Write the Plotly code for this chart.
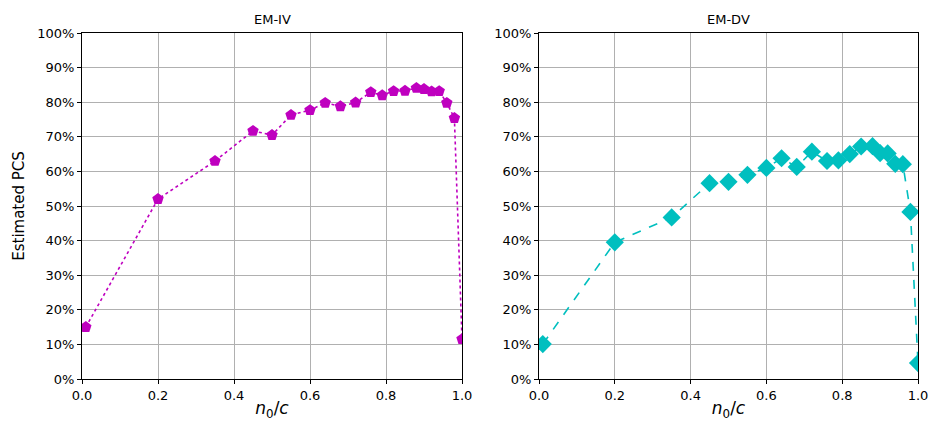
import plotly.graph_objects as go

# Data
x_iv = [0.01, 0.2, 0.35, 0.45, 0.5, 0.55, 0.6, 0.64, 0.68, 0.72, 0.76, 0.79, 0.82, 0.85, 0.88, 0.9, 0.92, 0.94, 0.96, 0.98, 1.0]
pcs_iv = [15.0, 52.0, 63.0, 71.7, 70.5, 76.3, 77.7, 79.8, 78.8, 79.9, 82.9, 82.0, 83.2, 83.3, 84.1, 83.8, 83.1, 83.2, 79.8, 75.4, 11.5]
x_dv = [0.01, 0.2, 0.35, 0.45, 0.5, 0.55, 0.6, 0.64, 0.68, 0.72, 0.76, 0.79, 0.82, 0.85, 0.88, 0.9, 0.92, 0.94, 0.96, 0.98, 1.0]
pcs_dv = [10.1, 39.5, 46.7, 56.6, 57.0, 59.0, 61.0, 63.8, 61.3, 65.7, 63.0, 63.2, 65.0, 67.2, 67.3, 65.3, 65.2, 62.2, 62.1, 48.3, 4.6]
titles = ["EM-IV", "EM-DV"]
y_ticks = list(range(0, 101, 10))
x_ticks = [0.0, 0.2, 0.4, 0.6, 0.8, 1.0]

W, H = 930, 421


def px_x(p):
    return p / W


def px_y(p):
    return (H - p) / H


fig = go.Figure()
fig.add_trace(go.Scatter(x=x_iv, y=pcs_iv, mode="lines+markers",
                         line=dict(color="#bf00bf", width=1.6, dash="dot"),
                         marker=dict(symbol="pentagon", size=12, color="#bf00bf"),
                         xaxis="x", yaxis="y", showlegend=False))
fig.add_trace(go.Scatter(x=x_dv, y=pcs_dv, mode="lines+markers",
                         line=dict(color="#00bfbf", width=1.6, dash="dash"),
                         marker=dict(symbol="diamond", size=14, color="#00bfbf"),
                         xaxis="x2", yaxis="y2", showlegend=False))

font_family = "DejaVu Sans"
tickfont = dict(family=font_family, size=13, color="black")
common_x = dict(range=[0, 1], tickvals=x_ticks, ticktext=[f"{v:.1f}" for v in x_ticks],
                showgrid=True, gridcolor="#b0b0b0", gridwidth=1,
                showline=True, linecolor="black", linewidth=1, mirror=True,
                ticks="outside", ticklen=4, tickcolor="black", tickfont=tickfont,
                zeroline=False, automargin=False,
                title=dict(text="<i>n</i><sub>0</sub>/<i>c</i>",
                           font=dict(family=font_family, size=17, color="black"), standoff=4))
common_y = dict(range=[0, 100], tickvals=y_ticks, ticktext=[f"{v}%" for v in y_ticks],
                showgrid=True, gridcolor="#b0b0b0", gridwidth=1,
                showline=True, linecolor="black", linewidth=1, mirror=True,
                ticks="outside", ticklen=4, tickcolor="black", tickfont=tickfont,
                zeroline=False, automargin=False)

fig.update_layout(
    width=W, height=H,
    margin=dict(l=0, r=0, t=0, b=0),
    paper_bgcolor="white", plot_bgcolor="white",
    xaxis=dict(domain=[px_x(82), px_x(462)], anchor="y", **common_x),
    yaxis=dict(domain=[px_y(379), px_y(33)], anchor="x",
               title=dict(text="Estimated PCS", font=dict(family=font_family, size=15, color="black"), standoff=8),
               **common_y),
    xaxis2=dict(domain=[px_x(539), px_x(918)], anchor="y2", **common_x),
    yaxis2=dict(domain=[px_y(379), px_y(33)], anchor="x2", **common_y),
    annotations=[
        dict(text=titles[0], x=px_x((82 + 462) / 2), y=px_y(19), xref="paper", yref="paper",
             xanchor="center", yanchor="middle",
             showarrow=False, font=dict(family=font_family, size=13, color="black")),
        dict(text=titles[1], x=px_x((539 + 918) / 2), y=px_y(19), xref="paper", yref="paper",
             xanchor="center", yanchor="middle",
             showarrow=False, font=dict(family=font_family, size=13, color="black")),
    ],
)

fig.write_html("out.html",
               config={"displayModeBar": False},
               post_script="document.body.style.margin='0px';document.body.style.overflow='hidden';")
